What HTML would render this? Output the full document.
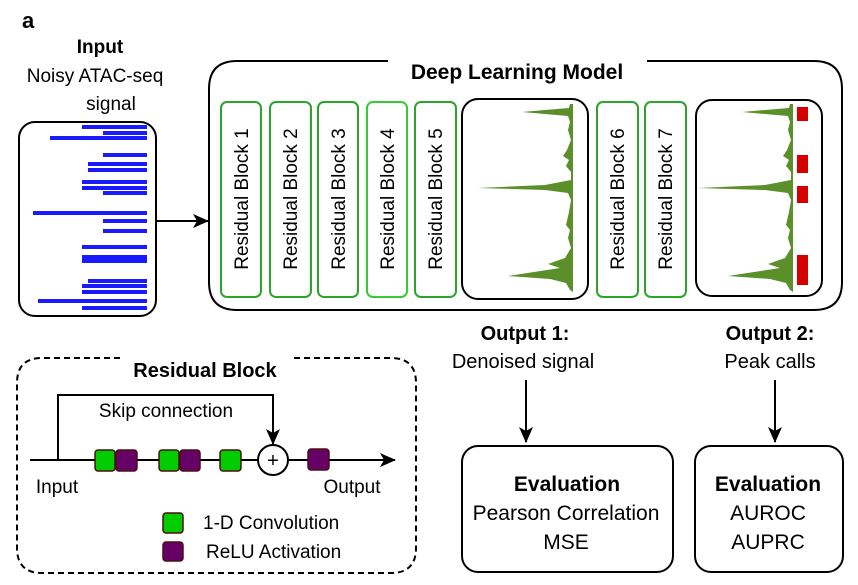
<!DOCTYPE html>
<html><head><meta charset="utf-8"><style>
body{margin:0;background:#fff}
svg{display:block;font-family:"Liberation Sans",Arial,sans-serif}
</style></head><body>
<svg width="858" height="585" viewBox="0 0 858 585" xmlns="http://www.w3.org/2000/svg">
<defs>
<marker id="ah" markerWidth="16" markerHeight="14" refX="15" refY="7" orient="auto" markerUnits="userSpaceOnUse"><path d="M0,0 L16,7 L0,14 L4,7 Z" fill="#000"/></marker>
<path id="pk" d="M573,104 L570,104 L569,108 L545,110 L522,112 L545,114 L568,116 L570,122 L568,130 L571,140 L567,150 L563,156 L569,160 L566,166 L571,172 L571,180 L545,185 L478,188 L545,190 L568,193 L571,200 L569,212 L566,225 L570,230 L568,238 L571,248 L565,258 L548,264 L560,268 L508,276 L550,279 L566,283 L570,290 L573,292 Z" fill="#5a8f2a"/>
</defs>
<text x="22" y="28" font-size="22" font-weight="bold">a</text>
<text x="100" y="53" font-size="19" font-weight="bold" text-anchor="middle">Input</text>
<text x="95" y="82" font-size="19" text-anchor="middle">Noisy ATAC-seq</text>
<text x="111" y="110" font-size="19" text-anchor="middle">signal</text>
<rect x="19" y="122" width="137" height="194" rx="16" fill="none" stroke="#000" stroke-width="2"/>
<g fill="#1a1aff">
<rect x="82" y="125" width="65" height="4"/><rect x="103" y="131" width="44" height="4"/><rect x="50" y="136" width="97" height="4"/>
<rect x="103" y="153" width="44" height="4"/><rect x="88" y="162" width="59" height="4"/><rect x="88" y="168" width="59" height="4"/>
<rect x="82" y="180" width="65" height="4"/><rect x="82" y="186" width="65" height="4"/><rect x="103" y="191" width="44" height="4"/>
<rect x="33" y="211" width="114" height="4"/><rect x="103" y="219" width="44" height="4"/><rect x="103" y="229" width="44" height="4"/>
<rect x="82" y="245" width="65" height="4"/><rect x="82" y="255" width="65" height="4"/><rect x="82" y="259" width="65" height="4"/>
<rect x="88" y="279" width="59" height="4"/><rect x="82" y="284" width="65" height="4"/><rect x="82" y="290" width="65" height="4"/>
<rect x="38" y="299" width="109" height="4"/><rect x="82" y="306" width="65" height="4"/>
</g>
<line x1="156" y1="221" x2="208" y2="221" stroke="#000" stroke-width="2" marker-end="url(#ah)"/>
<path d="M388,61 L237,61 Q209,61 209,89 L209,282 Q209,310 237,310 L814,310 Q842,310 842,282 L842,89 Q842,61 814,61 L647,61" fill="none" stroke="#000" stroke-width="2"/>
<text x="517" y="79" font-size="21" font-weight="bold" text-anchor="middle">Deep Learning Model</text>
<g fill="none" stroke="#2aa52a" stroke-width="2">
<rect x="221" y="102" width="40" height="195" rx="6"/>
<rect x="270" y="102" width="41" height="195" rx="6"/>
<rect x="318" y="102" width="40" height="195" rx="6"/>
<rect x="367" y="102" width="40" height="195" rx="6" stroke="#33cc33"/>
<rect x="415" y="102" width="41" height="195" rx="6"/>
<rect x="597" y="102" width="41" height="195" rx="6"/>
<rect x="645" y="102" width="41" height="195" rx="6"/>
</g>
<g font-size="19" text-anchor="middle">
<text transform="translate(248,199) rotate(-90)">Residual Block 1</text>
<text transform="translate(297,199) rotate(-90)">Residual Block 2</text>
<text transform="translate(345,199) rotate(-90)">Residual Block 3</text>
<text transform="translate(394,199) rotate(-90)">Residual Block 4</text>
<text transform="translate(442,199) rotate(-90)">Residual Block 5</text>
<text transform="translate(624,199) rotate(-90)">Residual Block 6</text>
<text transform="translate(672,199) rotate(-90)">Residual Block 7</text>
</g>
<rect x="462" y="99" width="126" height="200" rx="16" fill="none" stroke="#000" stroke-width="2"/>
<use href="#pk"/>
<rect x="696" y="100" width="126" height="196" rx="16" fill="none" stroke="#000" stroke-width="2"/>
<use href="#pk" transform="translate(220,0)"/>
<g fill="#d40000">
<rect x="797" y="107" width="11" height="14"/><rect x="797" y="155" width="11" height="18"/>
<rect x="797" y="186" width="11" height="17"/><rect x="797" y="255" width="11" height="30"/>
</g>
<text x="525" y="340" font-size="20" font-weight="bold" text-anchor="middle">Output 1:</text>
<text x="523" y="368" font-size="20" text-anchor="middle">Denoised signal</text>
<text x="770" y="340" font-size="20" font-weight="bold" text-anchor="middle">Output 2:</text>
<text x="770" y="368" font-size="20" text-anchor="middle">Peak calls</text>
<line x1="526" y1="380" x2="526" y2="442" stroke="#000" stroke-width="2" marker-end="url(#ah)"/>
<line x1="775" y1="380" x2="775" y2="442" stroke="#000" stroke-width="2" marker-end="url(#ah)"/>
<rect x="462" y="446" width="211" height="126" rx="16" fill="none" stroke="#000" stroke-width="2"/>
<text x="567" y="491" font-size="21" font-weight="bold" text-anchor="middle">Evaluation</text>
<text x="566" y="520" font-size="21" text-anchor="middle">Pearson Correlation</text>
<text x="566" y="549" font-size="21" text-anchor="middle">MSE</text>
<rect x="695" y="446" width="148" height="126" rx="16" fill="none" stroke="#000" stroke-width="2"/>
<text x="768" y="491" font-size="21" font-weight="bold" text-anchor="middle">Evaluation</text>
<text x="768" y="520" font-size="21" text-anchor="middle">AUROC</text>
<text x="768" y="549" font-size="21" text-anchor="middle">AUPRC</text>
<path d="M120,358 L42,358 Q17,358 17,383 L17,548 Q17,573 42,573 L391,573 Q416,573 416,548 L416,383 Q416,358 391,358 L292,358" fill="none" stroke="#000" stroke-width="2" stroke-dasharray="6,4"/>
<text x="205" y="377" font-size="20" font-weight="bold" text-anchor="middle">Residual Block</text>
<text x="166" y="417" font-size="19" text-anchor="middle">Skip connection</text>
<path d="M58,460 L58,395 L273,395 L273,444" fill="none" stroke="#000" stroke-width="2" marker-end="url(#ah)"/>
<line x1="30" y1="460" x2="395" y2="460" stroke="#000" stroke-width="2" marker-end="url(#ah)"/>
<circle cx="273" cy="460" r="15" fill="#fff" stroke="#000" stroke-width="2"/>
<text x="273" y="467" font-size="20" text-anchor="middle">+</text>
<g stroke="#4a1010" stroke-width="1.5">
<rect x="95" y="450" width="20" height="21" rx="3" fill="#00cc00"/>
<rect x="116" y="450" width="21" height="21" rx="3" fill="#660066"/>
<rect x="159" y="450" width="20" height="21" rx="3" fill="#00cc00"/>
<rect x="180" y="450" width="20" height="21" rx="3" fill="#660066"/>
<rect x="220" y="450" width="21" height="21" rx="3" fill="#00cc00"/>
<rect x="308" y="449" width="21" height="21" rx="3" fill="#660066"/>
<rect x="163" y="513" width="20" height="20" rx="3" fill="#00cc00"/>
<rect x="163" y="542" width="20" height="19" rx="3" fill="#660066"/>
</g>
<text x="57" y="493" font-size="19" text-anchor="middle">Input</text>
<text x="352" y="493" font-size="19" text-anchor="middle">Output</text>
<text x="203" y="529" font-size="19">1-D Convolution</text>
<text x="206" y="558" font-size="19">ReLU Activation</text>
</svg>
</body></html>
